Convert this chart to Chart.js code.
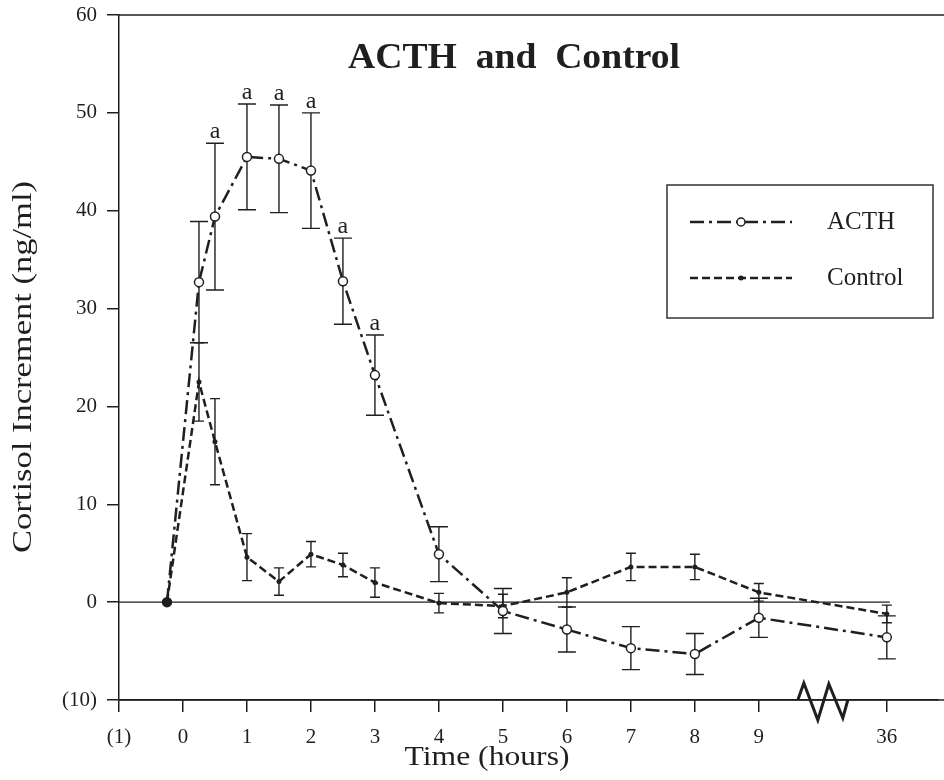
<!DOCTYPE html>
<html>
<head>
<meta charset="utf-8">
<script src="https://cdn.jsdelivr.net/npm/chart.js@4"></script>
<style>
  html, body { margin: 0; padding: 0; background: #fff; }
  #wrap { width: 944px; height: 780px; }
</style>
</head>
<body>
<div id="wrap"><canvas id="cortisolChart"></canvas></div>
<script>
// Sampling times (hours). -0.25 is the baseline sample, 36 h sits past the axis break
const hours = [-0.25, 0.25, 0.5, 1, 1.5, 2, 2.5, 3, 4, 5, 6, 7, 8, 9, 36];

// ACTH group: mean increment and error (ng/ml)
const acthMean = [0, 32.7, 39.4, 45.5, 45.3, 44.1, 32.8, 23.2, 4.9, -0.9, -2.8, -4.7, -5.3, -1.6, -3.6];
const acthErr = [0, 6.2, 7.5, 5.4, 5.5, 5.9, 4.4, 4.1, 2.8, 2.3, 2.3, 2.2, 2.1, 2.0, 2.2];
// points marked "a" (significant vs control)
const acthSig = [false, false, true, true, true, true, true, true, false, false, false, false, false, false, false];

// Control group
const controlMean = [0, 22.5, 16.4, 4.6, 2.1, 4.9, 3.8, 2.0, -0.1, -0.4, 1.0, 3.6, 3.6, 1.0, -1.2];
const controlErr = [0, 4.0, 4.4, 2.4, 1.4, 1.3, 1.2, 1.5, 1.0, 1.2, 1.5, 1.4, 1.3, 0.9, 0.9];

// Axis ticks
const xTickValues = [-1, 0, 1, 2, 3, 4, 5, 6, 7, 8, 9, 36];
const xTickLabels = ['(1)', '0', '1', '2', '3', '4', '5', '6', '7', '8', '9', '36'];
const yTickValues = [-10, 0, 10, 20, 30, 40, 50, 60];
const yTickLabels = ['(10)', '0', '10', '20', '30', '40', '50', '60'];

const ink = '#1f1f1f';
const serif = "'Liberation Serif', 'Times New Roman', serif";
const acthDash = [14, 5, 3, 5];
const controlDash = [8, 4];

// anything after 9 h is drawn in the slot after the break
function slot(h) {
    return h > 9 ? 11 : h;
}

function toPoints(values) {
    return hours.map((h, i) => ({ x: slot(h), y: values[i] }));
}

// Draw text stretched / squeezed to a given width
function drawFitted(ctx, text, x, y, width) {
    const w = ctx.measureText(text).width;
    ctx.save();
    ctx.translate(x, y);
    ctx.scale(width / w, 1);
    ctx.fillText(text, 0, 0);
    ctx.restore();
}

const decorations = {
    id: 'decorations',
    beforeDatasetsDraw(chart) {
        const ctx = chart.ctx;
        const xs = chart.scales.x;
        const ys = chart.scales.y;
        const area = chart.chartArea;

        ctx.save();
        ctx.strokeStyle = ink;

        // top frame line and bottom axis run to the right edge
        ctx.lineWidth = 1.5;
        ctx.beginPath();
        ctx.moveTo(area.left, ys.getPixelForValue(60));
        ctx.lineTo(chart.width, ys.getPixelForValue(60));
        ctx.moveTo(area.left, ys.getPixelForValue(-10));
        ctx.lineTo(chart.width, ys.getPixelForValue(-10));
        ctx.stroke();

        // zero line
        ctx.lineWidth = 1.2;
        ctx.beginPath();
        ctx.moveTo(xs.getPixelForValue(-1), ys.getPixelForValue(0));
        ctx.lineTo(xs.getPixelForValue(11) + 3, ys.getPixelForValue(0));
        ctx.stroke();

        // error bars
        const groups = [
            { mean: acthMean, err: acthErr, cap: 9, meta: chart.getDatasetMeta(0) },
            { mean: controlMean, err: controlErr, cap: 5, meta: chart.getDatasetMeta(1) }
        ];
        ctx.lineWidth = 1.4;
        groups.forEach(g => {
            g.mean.forEach((m, i) => {
                if (!g.err[i]) return;
                const x = g.meta.data[i].x;
                const top = ys.getPixelForValue(m + g.err[i]);
                const bot = ys.getPixelForValue(m - g.err[i]);
                ctx.beginPath();
                ctx.moveTo(x, top);
                ctx.lineTo(x, bot);
                ctx.moveTo(x - g.cap, top);
                ctx.lineTo(x + g.cap, top);
                ctx.moveTo(x - g.cap, bot);
                ctx.lineTo(x + g.cap, bot);
                ctx.stroke();
            });
        });
        ctx.restore();
    },
    afterDraw(chart) {
        const ctx = chart.ctx;
        const xs = chart.scales.x;
        const ys = chart.scales.y;
        const acthMeta = chart.getDatasetMeta(0);

        ctx.save();
        ctx.fillStyle = ink;
        ctx.strokeStyle = ink;

        // significance marks
        ctx.font = '24px ' + serif;
        ctx.textAlign = 'center';
        ctx.textBaseline = 'alphabetic';
        acthSig.forEach((s, i) => {
            if (!s) return;
            const x = acthMeta.data[i].x;
            const top = ys.getPixelForValue(acthMean[i] + acthErr[i]);
            ctx.fillText('a', x, top - 5);
        });

        // title
        ctx.font = 'bold 36px ' + serif;
        drawFitted(ctx, 'ACTH  and  Control', 514, 68, 332);

        // axis titles
        ctx.font = '28px ' + serif;
        ctx.textBaseline = 'middle';
        drawFitted(ctx, 'Time (hours)', 487, 758, 165);
        ctx.save();
        ctx.translate(24, 367);
        ctx.rotate(-Math.PI / 2);
        drawFitted(ctx, 'Cortisol Increment (ng/ml)', 0, 0, 372);
        ctx.restore();

        // axis break
        const bx = xs.getPixelForValue(10);
        const by = ys.getPixelForValue(-10);
        ctx.lineWidth = 3;
        ctx.lineJoin = 'miter';
        ctx.beginPath();
        ctx.moveTo(bx - 25, by);
        ctx.lineTo(bx - 19, by - 17);
        ctx.lineTo(bx - 5, by + 20);
        ctx.lineTo(bx + 6, by - 16);
        ctx.lineTo(bx + 20, by + 18);
        ctx.lineTo(bx + 25, by);
        ctx.stroke();

        // legend box
        ctx.lineWidth = 1.5;
        ctx.strokeStyle = '#333';
        ctx.strokeRect(667, 185, 266, 133);

        const rows = [
            { label: 'ACTH', y: 222, dash: acthDash, open: true },
            { label: 'Control', y: 278, dash: controlDash, open: false }
        ];
        rows.forEach(r => {
            ctx.strokeStyle = ink;
            ctx.lineWidth = 2.5;
            ctx.setLineDash(r.dash);
            ctx.beginPath();
            ctx.moveTo(690, r.y);
            ctx.lineTo(792, r.y);
            ctx.stroke();
            ctx.setLineDash([]);
            ctx.beginPath();
            if (r.open) {
                ctx.arc(741, r.y, 4, 0, Math.PI * 2);
                ctx.fillStyle = '#fff';
                ctx.fill();
                ctx.lineWidth = 1.5;
                ctx.stroke();
            } else {
                ctx.arc(741, r.y, 2.5, 0, Math.PI * 2);
                ctx.fillStyle = ink;
                ctx.fill();
            }
            ctx.fillStyle = ink;
            ctx.font = '25px ' + serif;
            ctx.textAlign = 'left';
            ctx.textBaseline = 'middle';
            ctx.fillText(r.label, 827, r.y);
        });

        ctx.restore();
    }
};

const ctx = document.getElementById('cortisolChart').getContext('2d');

new Chart(ctx, {
    type: 'line',
    data: {
        datasets: [
            {
                label: 'ACTH',
                data: toPoints(acthMean),
                borderColor: ink,
                borderWidth: 2.5,
                borderDash: acthDash,
                pointRadius: 4.5,
                pointBorderWidth: 1.5,
                pointBorderColor: ink,
                pointBackgroundColor: c => c.dataIndex === 0 ? ink : '#fff',
                tension: 0
            },
            {
                label: 'Control',
                data: toPoints(controlMean),
                borderColor: ink,
                borderWidth: 2.5,
                borderDash: controlDash,
                pointRadius: c => c.dataIndex === 0 ? 4.5 : 2.5,
                pointBorderWidth: 0,
                pointBackgroundColor: ink,
                tension: 0
            }
        ]
    },
    options: {
        responsive: true,
        maintainAspectRatio: false,
        animation: false,
        devicePixelRatio: 1,
        layout: {
            padding: { top: 15, right: 0, left: 0, bottom: 0 }
        },
        plugins: {
            legend: { display: false },
            tooltip: { enabled: false },
            title: { display: false }
        },
        scales: {
            x: {
                type: 'linear',
                min: -1,
                max: 11.8,
                afterBuildTicks: scale => {
                    scale.ticks = xTickValues.map(v => ({ value: slot(v) }));
                },
                afterFit: scale => {
                    scale.height = 80;
                },
                grid: {
                    drawOnChartArea: false,
                    drawTicks: true,
                    tickLength: 12,
                    color: ink,
                    lineWidth: 1.5
                },
                border: { display: true, color: ink, width: 1.5 },
                ticks: {
                    color: ink,
                    padding: 13,
                    maxRotation: 0,
                    autoSkip: false,
                    font: { family: serif, size: 21 },
                    callback: (value, index) => xTickLabels[index]
                }
            },
            y: {
                min: -10,
                max: 60,
                afterBuildTicks: scale => {
                    scale.ticks = yTickValues.map(v => ({ value: v }));
                },
                afterFit: scale => {
                    scale.width = 119;
                    // let the top tick label hang above the plot edge
                    scale.paddingTop = 0;
                    scale.paddingBottom = 0;
                },
                grid: {
                    drawOnChartArea: false,
                    drawTicks: true,
                    tickLength: 12,
                    color: ink,
                    lineWidth: 1.5
                },
                border: { display: true, color: ink, width: 1.5 },
                ticks: {
                    color: ink,
                    padding: 10,
                    font: { family: serif, size: 21 },
                    callback: (value, index) => yTickLabels[index]
                }
            }
        }
    },
    plugins: [decorations]
});
</script>
</body>
</html>
